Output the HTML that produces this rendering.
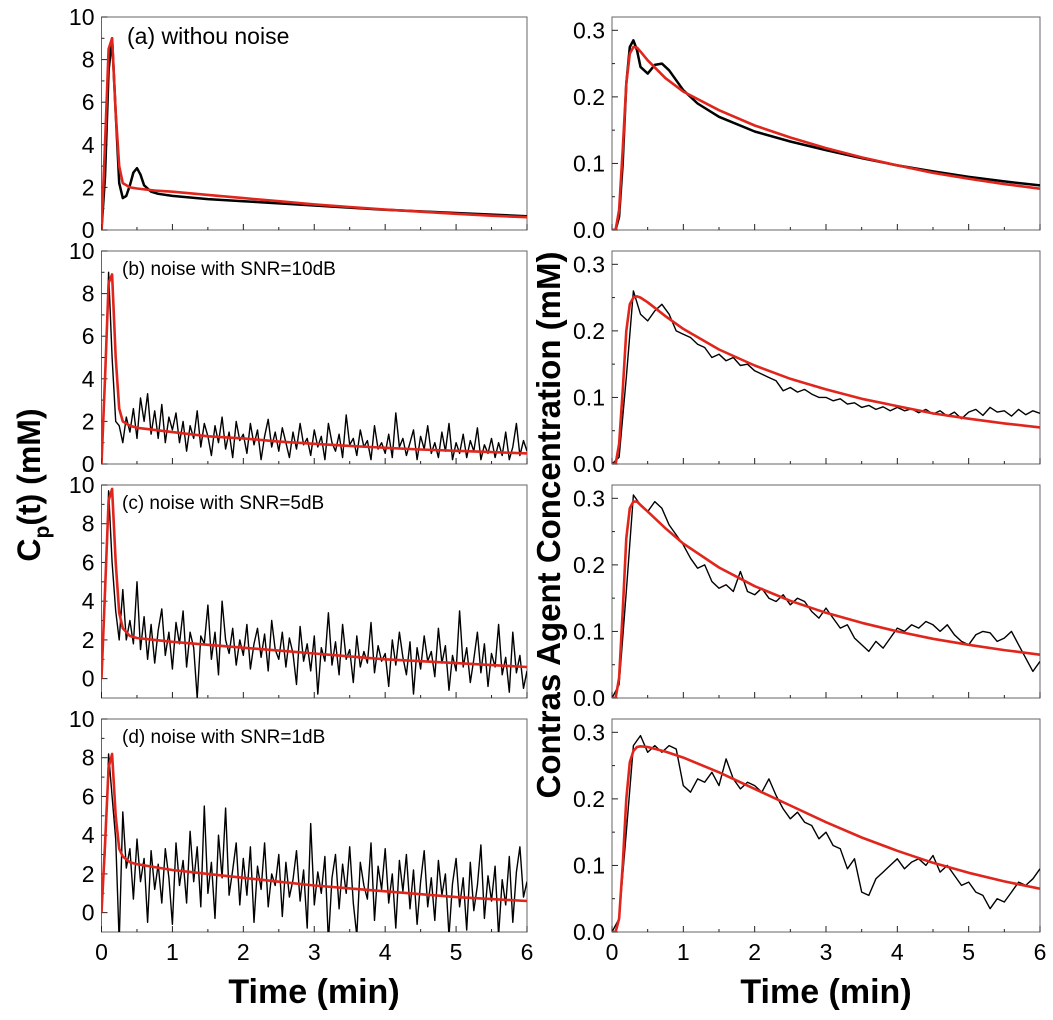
<!DOCTYPE html>
<html><head><meta charset="utf-8"><style>
body{margin:0;background:#fff}
svg{display:block;font-family:"Liberation Sans",Arial,sans-serif}
</style></head><body>
<svg id="chart" width="1053" height="1020" viewBox="0 0 1053 1020">
<text x="40" y="485" font-size="32" font-weight="bold" transform="rotate(-90 40 485)" text-anchor="middle">C<tspan font-size="21" dy="9">p</tspan><tspan dy="-9">(t) (mM)</tspan></text>
<text x="560" y="525" font-size="33" font-weight="bold" transform="rotate(-90 560 525)" text-anchor="middle">Contras Agent Concentration (mM)</text>
<text x="314" y="1003" font-size="34" font-weight="bold" text-anchor="middle">Time (min)</text>
<text x="826" y="1003" font-size="34" font-weight="bold" text-anchor="middle">Time (min)</text>
</svg>
<script>
const leftFitT=[0,0.05,0.1,0.15,0.2,0.25,0.3,0.4,0.5,0.75,1,1.5,2,2.5,3,3.5,4,4.5,5,5.5,6];
const leftFitA=[0,4,8.5,9,5.5,3.0,2.2,2.0,1.95,1.85,1.8,1.65,1.5,1.35,1.2,1.08,0.96,0.86,0.76,0.67,0.6];
const leftFitB=[0,4,8.5,8.9,5,2.6,2.0,1.8,1.7,1.6,1.5,1.3,1.2,1.05,0.95,0.85,0.76,0.68,0.62,0.56,0.5];
const leftFitC=[0,4.5,9.2,9.8,6,3.4,2.6,2.2,2.1,2.0,1.9,1.75,1.6,1.45,1.3,1.15,1.0,0.9,0.8,0.7,0.6];
const leftFitD=[0,3.5,7.5,8.2,5,3.3,2.9,2.6,2.5,2.35,2.2,2.0,1.8,1.6,1.4,1.25,1.1,0.95,0.8,0.7,0.6];
const leftAT=[0,0.05,0.1,0.15,0.2,0.25,0.3,0.35,0.4,0.45,0.5,0.55,0.6,0.7,0.8,1,1.5,2,3,4,5,6];
const leftAV=[0,2.5,7.5,9,5.5,2.2,1.5,1.6,2.1,2.7,2.9,2.6,2.1,1.8,1.7,1.6,1.45,1.35,1.15,0.95,0.8,0.65];
const leftB=[0,4,9,5,2,1.8,1,2.2,1.5,2.6,1.2,3.1,2,3.3,1.4,2.5,1.2,2.8,1.0,2.2,
1.6,2.4,1.0,2.0,0.6,1.8,1.2,2.5,0.8,1.9,1.3,0.4,1.8,1.0,2.2,0.7,1.5,0.3,2.0,1.1,
1.4,0.5,1.9,0.9,1.6,0.2,1.3,2.1,0.8,1.5,0.6,1.7,1.0,0.3,1.5,0.7,1.9,0.9,1.2,0.4,
1.6,0.8,1.3,0.2,1.9,1.0,0.6,1.4,0.3,2.3,0.9,1.2,0.4,1.6,0.8,1.1,0.2,1.8,0.7,1.0,
0.5,1.4,0.3,2.4,0.8,1.2,0.4,1.0,1.6,0.2,1.3,0.7,1.8,0.5,1.0,0.3,1.5,0.6,1.9,0.2,
1.0,0.5,1.4,0.3,1.1,0.6,1.7,0.2,0.9,0.5,1.2,0.3,1.0,0.4,1.5,0.2,0.8,1.9,0.4,1.1,0.6];
const leftC=[0,4,9.7,6,3.5,2,4.6,2,3,1.8,5,1.5,3.2,1,2.8,0.8,2.5,3.6,1.2,2.4,
0.5,2.9,1.8,3.5,0.6,2.4,1.6,-1,2.2,1.8,3.8,1.0,2.4,0.2,4,2,1.3,2.6,0.7,2.0,
1.2,2.8,0.5,1.8,2.6,1.1,2.3,0.4,3.0,1.5,1.0,2.4,0.6,2.1,1.3,-0.3,2.7,0.9,1.8,0.4,
2.2,-0.8,1.6,0.9,3.4,0.7,1.9,0.2,2.8,1.0,1.5,-0.2,2.2,0.6,1.4,0.8,2.9,0.3,1.7,0.9,
1.3,-0.4,2.0,0.7,2.4,1.1,0.2,1.9,-0.8,1.6,0.5,2.2,0.9,1.4,0.1,2.6,0.8,1.7,-0.6,1.2,
0.4,3.5,0.6,1.6,-0.2,1.0,2.4,0.3,1.8,-0.4,1.3,0.6,2.8,0.2,1.1,-0.7,2.4,0.3,1.2,-0.5,0.4];
const leftD=[0,3,8.2,6,3.8,-1.5,5.2,2.3,3.3,0.7,3.8,1.6,2.8,-0.5,3.2,1.2,2.5,0.5,3.3,1.8,
-0.6,3.6,1.4,2.7,0.5,4.2,1.6,3.4,0.3,5.5,1.0,2.6,-0.3,4.0,1.8,5.4,0.9,2.2,3.6,0.4,
2.8,0.9,3.4,-0.5,2.4,1.2,3.6,0.3,2.0,1.4,3.0,-0.2,2.6,0.8,1.7,3.2,0.6,2.2,-0.8,4.6,
0.4,2.1,1.0,2.9,-1.5,1.8,3.0,0.2,2.5,1.0,3.4,0.5,-1.2,2.6,1.4,0.7,3.6,-0.4,2.4,1.2,
3.3,0.5,2.0,-0.8,2.7,1.1,3.0,0.2,2.2,-0.6,1.6,3.2,0.3,1.8,-0.4,2.7,0.9,2.0,-1.2,1.5,
2.8,0.3,1.8,-0.9,2.6,0.1,1.4,3.5,-0.3,1.9,0.6,2.4,-1.2,1.7,0.4,2.9,-0.5,2.1,3.4,0.8,1.6];
const rightFitT=[0,0.05,0.1,0.15,0.2,0.25,0.3,0.35,0.4,0.5,0.75,1,1.5,2,2.5,3,3.5,4,4.5,5,5.5,6];
const rightFitA=[0,0,0.03,0.12,0.22,0.265,0.275,0.274,0.268,0.255,0.228,0.208,0.18,0.157,0.139,0.123,0.109,0.097,0.086,0.077,0.069,0.062];
const rightFitB=[0,0,0.03,0.11,0.2,0.24,0.25,0.252,0.25,0.243,0.222,0.203,0.172,0.148,0.128,0.112,0.098,0.087,0.076,0.068,0.061,0.055];
const rightFitC=[0,0,0.03,0.13,0.24,0.285,0.295,0.295,0.29,0.28,0.255,0.232,0.196,0.168,0.146,0.128,0.113,0.1,0.089,0.08,0.072,0.065];
const rightFitD=[0,0,0.02,0.1,0.2,0.255,0.272,0.278,0.279,0.278,0.271,0.262,0.24,0.215,0.19,0.165,0.142,0.122,0.104,0.089,0.076,0.065];
const rightAT=[0,0.05,0.1,0.15,0.2,0.25,0.3,0.35,0.4,0.5,0.6,0.7,0.8,1,1.2,1.5,2,2.5,3,3.5,4,4.5,5,5.5,6];
const rightAV=[0,0,0.02,0.1,0.22,0.275,0.285,0.27,0.245,0.235,0.248,0.25,0.24,0.21,0.19,0.17,0.148,0.133,0.12,0.108,0.097,0.088,0.08,0.073,0.067];
const rightB=[0,0.01,0.13,0.26,0.225,0.215,0.23,0.24,0.225,0.2,0.195,0.19,0.18,0.175,0.16,0.165,0.155,0.16,0.148,0.15,0.14,0.135,0.13,0.125,0.11,0.115,0.108,0.112,0.105,0.1,0.1,0.095,0.098,0.09,0.092,0.085,0.088,0.082,0.086,0.08,0.085,0.08,0.083,0.077,0.082,0.075,0.08,0.072,0.078,0.068,0.078,0.082,0.073,0.085,0.078,0.08,0.072,0.082,0.074,0.08,0.076];
const rightC=[0,0.02,0.16,0.305,0.29,0.28,0.295,0.285,0.26,0.245,0.23,0.21,0.195,0.2,0.175,0.165,0.17,0.16,0.19,0.16,0.155,0.165,0.15,0.145,0.155,0.14,0.15,0.145,0.13,0.12,0.135,0.12,0.105,0.11,0.09,0.08,0.07,0.085,0.075,0.09,0.105,0.1,0.11,0.105,0.115,0.11,0.1,0.11,0.095,0.085,0.08,0.095,0.1,0.098,0.085,0.09,0.1,0.08,0.06,0.04,0.055];
const rightD=[0,0.02,0.15,0.28,0.295,0.27,0.28,0.27,0.28,0.275,0.22,0.21,0.23,0.225,0.24,0.22,0.26,0.23,0.215,0.225,0.22,0.21,0.23,0.205,0.185,0.17,0.18,0.165,0.16,0.14,0.15,0.13,0.125,0.095,0.11,0.06,0.055,0.08,0.09,0.1,0.11,0.095,0.105,0.11,0.1,0.115,0.09,0.1,0.085,0.07,0.075,0.06,0.055,0.035,0.05,0.045,0.06,0.075,0.07,0.08,0.095];
const xTickLabels=["0","1","2","3","4","5","6"];
const leftYTicks=[0,2,4,6,8,10];
const rightYTicks=[0,0.1,0.2,0.3];
const panelLabels=["(a)  withou noise","(b)  noise with SNR=10dB","(c)  noise with SNR=5dB","(d)  noise with SNR=1dB"];

const NS="http://www.w3.org/2000/svg";
const svg=document.getElementById('chart');
function mk(tag,attrs,parent){const e=document.createElementNS(NS,tag);for(const k in attrs)e.setAttribute(k,attrs[k]);(parent||svg).appendChild(e);return e;}
const tops=[17,251,485,719], H=213;
function gridT(n){const a=[];for(let i=0;i<n;i++)a.push(i*6/(n-1));return a;}
function drawPanel(idx,side){
  const left=side==='L';
  const x0=left?101.5:612, x1=left?527:1040, y0=tops[idx], y1=y0+H;
  const ymin=left?(idx>=2?-1:0):0, ymax=left?10:0.32;
  const sx=v=>x0+(v/6)*(x1-x0);
  const sy=v=>y1-(v-ymin)/(ymax-ymin)*(y1-y0);
  const g=mk('g',{});
  
  
  const cid='clip'+side+idx;
  const cp=mk('clipPath',{id:cid},g);mk('rect',{x:x0,y:y0,width:x1-x0,height:H},cp);
  const fr=mk('rect',{x:x0,y:y0,width:x1-x0,height:H,fill:'none',stroke:'#666','stroke-width':1},g);
  
  for(let i=0;i<=12;i++){const v=i*0.5;const x=sx(v);mk('line',{x1:x,x2:x,y1:y1,y2:y1-(i%2?3:6),stroke:'#222','stroke-width':1},g);}
  if(idx===3){xTickLabels.forEach((lab,i)=>{const t=mk('text',{x:sx(i),y:y1+28,'font-size':23,'text-anchor':'middle'},g);t.textContent=lab;});}
  const yt=left?leftYTicks:rightYTicks, minor=left?1:0.05;
  for(let v=0;v<=ymax+1e-9;v+=minor){const y=sy(v);mk('line',{x1:x0,x2:x0+(Math.abs(v/(left?2:0.1)-Math.round(v/(left?2:0.1)))<1e-6?6:3),y1:y,y2:y,stroke:'#222','stroke-width':1},g);}
  yt.forEach(v=>{const t=mk('text',{x:x0-7,y:sy(v)+8,'font-size':23,'text-anchor':'end'},g);t.textContent=left?String(v):v.toFixed(1);});
  const cg=mk('g',{'clip-path':'url(#'+cid+')'},g);
  return {sx,sy,cg,x0,y0};
}
function line(p,ts,vs,color,w,name){
  const pts=vs.map((v,i)=>p.sx(ts[i]).toFixed(1)+','+p.sy(v).toFixed(1)).join(' ');
  const e=mk('polyline',{points:pts,fill:'none',stroke:color,'stroke-width':w,'stroke-linejoin':'round'},p.cg);
  
  
}
const RED='#e0261c';
const L=[drawPanel(0,'L'),drawPanel(1,'L'),drawPanel(2,'L'),drawPanel(3,'L')];
const R=[drawPanel(0,'R'),drawPanel(1,'R'),drawPanel(2,'R'),drawPanel(3,'R')];
line(L[0],leftAT,leftAV,'#000',2.5,'measured-curve');
line(L[1],gridT(leftB.length),leftB,'#000',1.4,'measured-curve');
line(L[2],gridT(leftC.length),leftC,'#000',1.4,'measured-curve');
line(L[3],gridT(leftD.length),leftD,'#000',1.4,'measured-curve');
[leftFitA,leftFitB,leftFitC,leftFitD].forEach((f,i)=>line(L[i],leftFitT,f,RED,2.6,'fit-curve'));
line(R[0],rightAT,rightAV,'#000',2.5,'measured-curve');
line(R[1],gridT(rightB.length),rightB,'#000',1.4,'measured-curve');
line(R[2],gridT(rightC.length),rightC,'#000',1.4,'measured-curve');
line(R[3],gridT(rightD.length),rightD,'#000',1.4,'measured-curve');
[rightFitA,rightFitB,rightFitC,rightFitD].forEach((f,i)=>line(R[i],rightFitT,f,RED,2.6,'fit-curve'));
panelLabels.forEach((s,i)=>{const t=mk('text',{x:i===0?127:122,y:tops[i]+(i===0?27:24),'font-size':i===0?23:19});t.textContent=s;

});
</script>
</body></html>
